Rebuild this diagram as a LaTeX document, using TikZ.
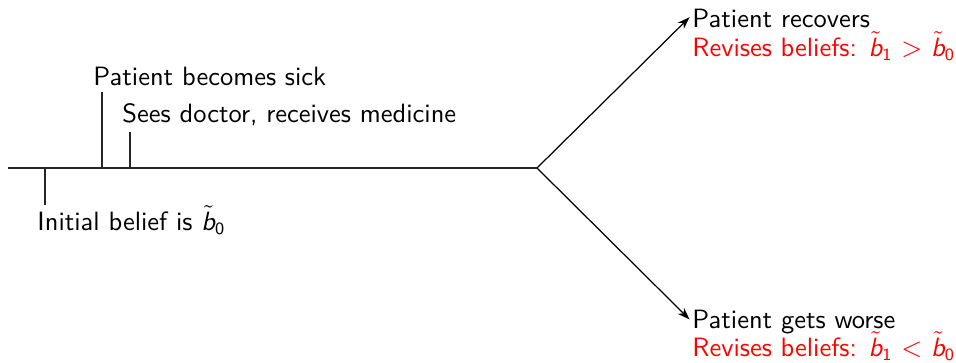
\documentclass[tikz,border=0pt]{standalone}
\usetikzlibrary{arrows.meta}
\newcommand{\bt}[1]{\ensuremath{\tilde{\mbox{\sffamily\itshape b}}_{\mbox{\sffamily\scriptsize #1}}}}
\begin{document}
\begin{tikzpicture}[x=0.408pt,y=-0.408pt,
  font=\sffamily\fontsize{10.8}{13}\selectfont,
  lbl/.style={inner sep=0pt,anchor=base west},
  red lbl/.style={lbl,text=red},
  tline/.style={line width=0.5pt,black!85},
  arr/.style={line width=0.5pt,-{Stealth[length=5pt,width=3.5pt]}}]
\useasboundingbox (0,0) rectangle (956,362);
% timeline
\coordinate (start) at (8,168);
\coordinate (branch) at (537,168);
\draw[tline] (start) -- (branch);
% ticks
\coordinate (t0) at (45,168);
\coordinate (t0e) at (45,205);
\coordinate (t1) at (102,168);
\coordinate (t1e) at (102,92);
\coordinate (t2) at (130,168);
\coordinate (t2e) at (130,132);
\draw[tline] (t0) -- (t0e);
\draw[tline] (t1) -- (t1e);
\draw[tline] (t2) -- (t2e);
% labels
\node[lbl] (init) at (37,230) {Initial belief is \bt{0}};
\node[lbl] (sick) at (93,85) {Patient becomes sick};
\node[lbl] (doc) at (122,122) {Sees doctor, receives medicine};
% outcomes
\node[lbl] (rec) at (692,27) {Patient recovers};
\node[red lbl] (recb) at (692,56) {Revises beliefs: \bt{1} $>$ \bt{0}};
\node[lbl] (wor) at (692,328) {Patient gets worse};
\node[red lbl] (worb) at (692,356) {Revises beliefs: \bt{1} $<$ \bt{0}};
\coordinate (recend) at ([xshift=-1pt,yshift=4pt]rec.base west);
\coordinate (worend) at ([xshift=-1pt,yshift=3.5pt]wor.base west);
\draw[arr] (branch) -- (recend);
\draw[arr] (branch) -- (worend);
\end{tikzpicture}
\end{document}
